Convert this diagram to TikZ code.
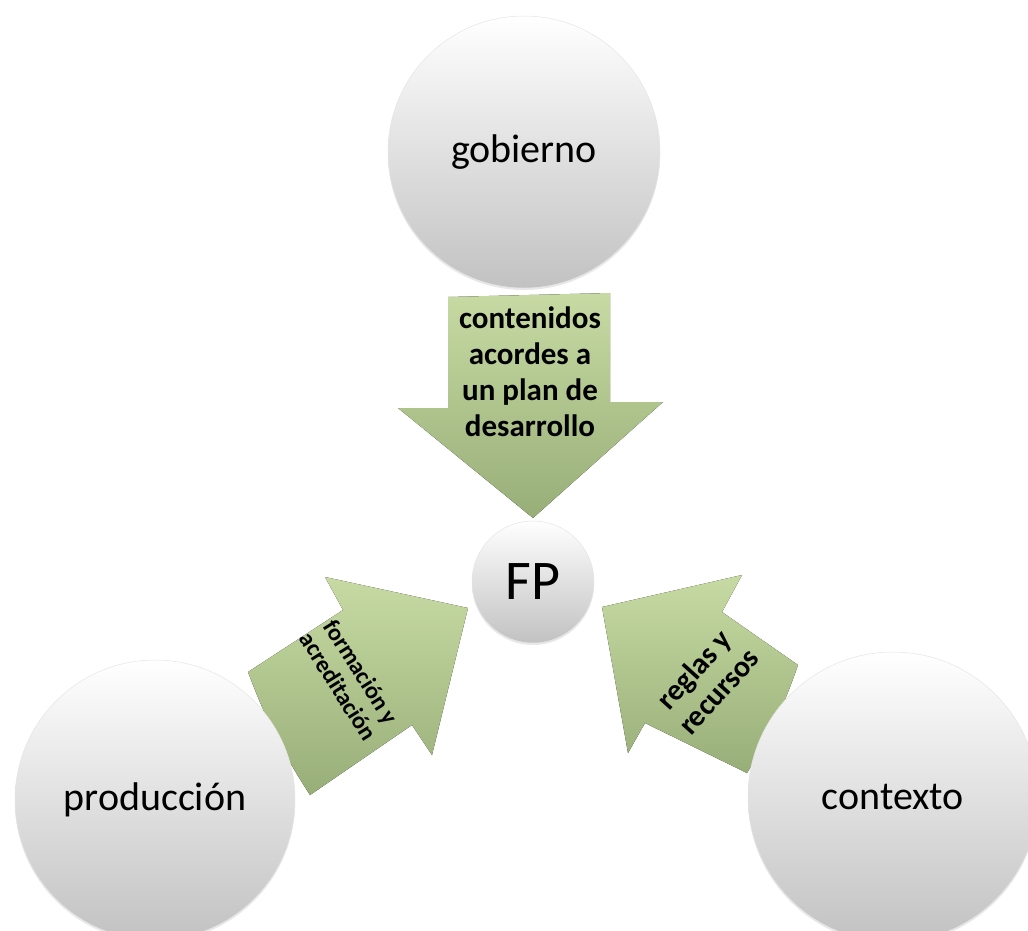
\documentclass[tikz,border=0pt]{standalone}
\usepackage{fontspec}
\setmainfont{Carlito}
\usetikzlibrary{shadows}
\definecolor{leafhi}{HTML}{C7DAA3}
\definecolor{leaflo}{HTML}{98AE78}
\tikzset{
  ball/.style={circle, inner sep=0pt, minimum size=#1, top color=white, bottom color=black!24,
    draw=black!10, line width=0.5pt,
    drop shadow={opacity=0.18, shadow xshift=0pt, shadow yshift=-2pt}},
  blockarrow/.style={top color=leafhi, bottom color=leaflo},
  arrowtext/.style={align=center, inner sep=0pt},
  big/.style={font=\fontsize{40}{48}\selectfont}
}
\begin{document}
\begin{tikzpicture}[x=1pt,y=-1pt]
        \useasboundingbox (0,0) rectangle (1028,930);
        \clip (0,0) rectangle (1028,930);

        % block arrows
        \fill[blockarrow] (448,297) -- (610,293) -- (610,402) -- (663,402) -- (533,518)
          -- (398,408) -- (448,408) -- cycle;
        \fill[blockarrow] (248,672) -- (343,610) -- (325,577) -- (468,608) -- (432,755)
          -- (412,725) -- (310,795) to[bend left=6] cycle;
        \fill[blockarrow] (602,607) -- (742,575) -- (722,612) -- (798,665) to[bend left=6] (747,773)
          -- (645,723) -- (628,753) -- cycle;

        \node[arrowtext, font=\bfseries\fontsize{31}{36}\selectfont] (plan) at (530,372)
          {contenidos\\acordes a\\un plan de\\desarrollo};
        \node[arrowtext, rotate=-58, font=\bfseries\fontsize{24}{27}\selectfont] (form) at (350,679)
          {formación y\\acreditación};
        \node[arrowtext, rotate=48, font=\bfseries\fontsize{30}{33}\selectfont] (reglas) at (706,680)
          {reglas y\\recursos};

        % circles
        \node[ball=272pt, big] (gob) at (524,152) {gobierno};
        \node[ball=280pt, big] (prod) at (155,800) {producción};
        \node[ball=290pt, big] (ctx) at (893,797) {contexto};
        \node[ball=122pt, font=\fontsize{56}{60}\selectfont] (fp) at (533,582) {FP};
\end{tikzpicture}
\end{document}
